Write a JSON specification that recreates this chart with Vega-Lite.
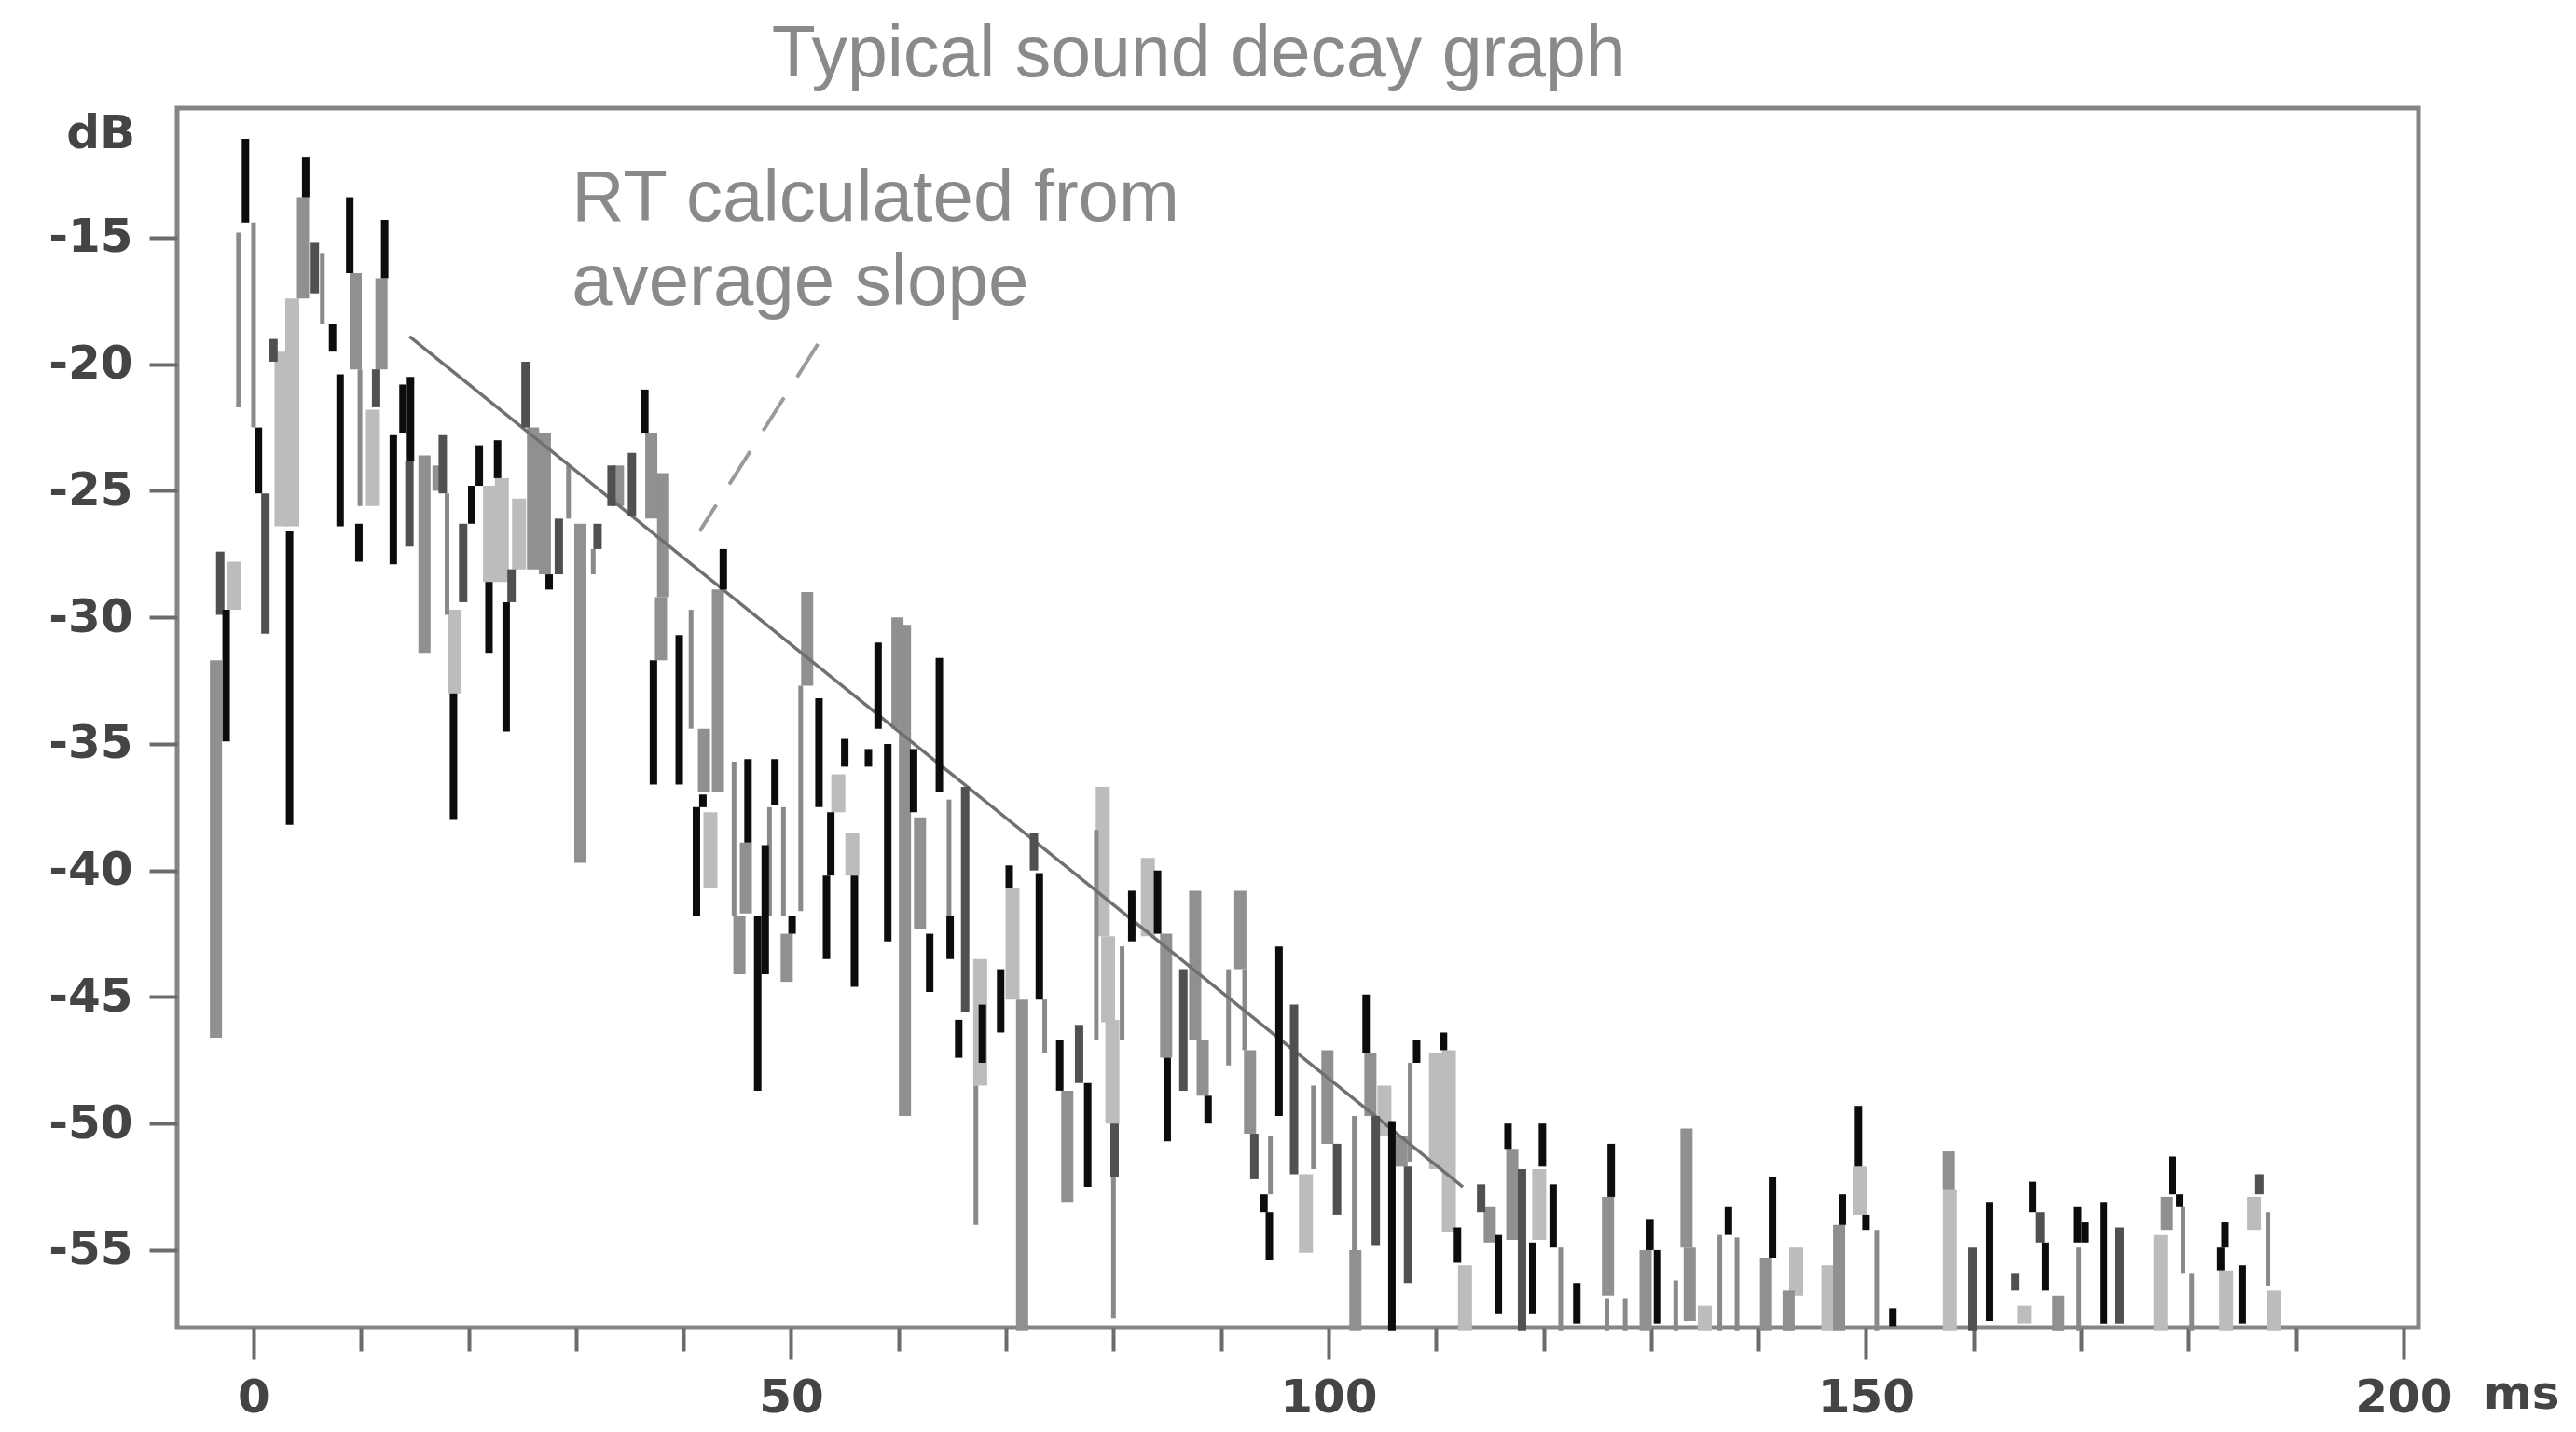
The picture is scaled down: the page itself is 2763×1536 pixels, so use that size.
{"$schema":"https://vega.github.io/schema/vega-lite/v6.json","width":2404,"height":1308,"autosize":"none","padding":{"left":190,"top":116,"right":169,"bottom":112},"background":"white","view":{"stroke":"#858585","strokeWidth":5,"fill":"white"},
"config":{"font":"Liberation Sans"},
"datasets":{"spans":[
{"ms":-3.5,"top":-31.7,"bottom":-46.6,"tone":"gray"},{"ms":-3.1,"top":-27.4,"bottom":-29.9,"tone":"dark"},{"ms":-2.55,"top":-29.7,"bottom":-34.9,"tone":"black"},{"ms":-1.8,"top":-27.8,"bottom":-29.7,"tone":"light"},{"ms":-0.75,"top":-11.1,"bottom":-14.4,"tone":"black"},{"ms":-1.4,"top":-14.8,"bottom":-21.7,"tone":"thin"},{"ms":0,"top":-14.4,"bottom":-22.5,"tone":"thin"},{"ms":0.45,"top":-22.5,"bottom":-25.1,"tone":"black"},{"ms":1.1,"top":-25.1,"bottom":-30.65,"tone":"dark"},{"ms":1.85,"top":-19,"bottom":-19.9,"tone":"dark"},{"ms":2.6,"top":-19.5,"bottom":-26.4,"tone":"light"},{"ms":3.6,"top":-17.4,"bottom":-26.4,"tone":"light"},{"ms":3.35,"top":-26.6,"bottom":-38.2,"tone":"black"},{"ms":4.85,"top":-11.8,"bottom":-13.4,"tone":"black"},{"ms":4.6,"top":-13.4,"bottom":-17.4,"tone":"gray"},{"ms":5.7,"top":-15.2,"bottom":-17.2,"tone":"dark"},{"ms":6.4,"top":-15.6,"bottom":-18.4,"tone":"thin"},{"ms":7.35,"top":-18.4,"bottom":-19.5,"tone":"black"},{"ms":8.05,"top":-20.4,"bottom":-26.4,"tone":"black"},{"ms":8.95,"top":-13.4,"bottom":-16.4,"tone":"black"},{"ms":9.5,"top":-16.4,"bottom":-20.2,"tone":"gray"},{"ms":9.9,"top":-20.2,"bottom":-25.6,"tone":"thin"},{"ms":9.8,"top":-26.3,"bottom":-27.8,"tone":"black"},{"ms":11.1,"top":-21.8,"bottom":-25.6,"tone":"light"},{"ms":12.2,"top":-14.3,"bottom":-16.6,"tone":"black"},{"ms":11.9,"top":-16.6,"bottom":-20.2,"tone":"gray"},{"ms":11.4,"top":-20.2,"bottom":-21.7,"tone":"dark"},{"ms":13,"top":-22.8,"bottom":-27.9,"tone":"black"},{"ms":13.9,"top":-20.8,"bottom":-22.7,"tone":"black"},{"ms":14.6,"top":-20.5,"bottom":-23.8,"tone":"black"},{"ms":14.5,"top":-23.8,"bottom":-27.2,"tone":"dark"},{"ms":15.9,"top":-23.6,"bottom":-31.4,"tone":"gray"},{"ms":17.6,"top":-22.8,"bottom":-25.1,"tone":"dark"},{"ms":17.2,"top":-24,"bottom":-25,"tone":"gray"},{"ms":18,"top":-25.1,"bottom":-29.9,"tone":"thin"},{"ms":19.5,"top":-26.3,"bottom":-29.4,"tone":"dark"},{"ms":18.7,"top":-29.7,"bottom":-33,"tone":"light"},{"ms":18.6,"top":-33,"bottom":-38,"tone":"black"},{"ms":20.3,"top":-24.8,"bottom":-26.3,"tone":"black"},{"ms":21,"top":-23.2,"bottom":-24.8,"tone":"black"},{"ms":22.7,"top":-23,"bottom":-24.5,"tone":"black"},{"ms":22,"top":-24.8,"bottom":-28.6,"tone":"light"},{"ms":23.1,"top":-24.5,"bottom":-28.6,"tone":"light"},{"ms":21.9,"top":-28.6,"bottom":-31.4,"tone":"black"},{"ms":24,"top":-28.1,"bottom":-29.4,"tone":"dark"},{"ms":23.5,"top":-29.4,"bottom":-34.5,"tone":"black"},{"ms":24.7,"top":-25.3,"bottom":-28.1,"tone":"light"},{"ms":25.3,"top":-19.9,"bottom":-22.5,"tone":"dark"},{"ms":26,"top":-22.5,"bottom":-28.1,"tone":"gray"},{"ms":27.1,"top":-22.7,"bottom":-28.3,"tone":"gray"},{"ms":27.5,"top":-28.3,"bottom":-28.9,"tone":"black"},{"ms":28.4,"top":-26.1,"bottom":-28.3,"tone":"dark"},{"ms":29.3,"top":-24,"bottom":-26.1,"tone":"thin"},{"ms":30.4,"top":-26.3,"bottom":-39.7,"tone":"gray"},{"ms":32,"top":-26.3,"bottom":-27.3,"tone":"dark"},{"ms":31.6,"top":-27.3,"bottom":-28.3,"tone":"thin"},{"ms":33.3,"top":-24,"bottom":-25.6,"tone":"dark"},{"ms":33.9,"top":-24,"bottom":-25.6,"tone":"gray"},{"ms":35.2,"top":-23.5,"bottom":-26,"tone":"dark"},{"ms":36.4,"top":-21,"bottom":-22.7,"tone":"black"},{"ms":37,"top":-22.7,"bottom":-26.1,"tone":"gray"},{"ms":38.1,"top":-24.3,"bottom":-29.2,"tone":"gray"},{"ms":37.9,"top":-29.2,"bottom":-31.7,"tone":"gray"},{"ms":37.2,"top":-31.7,"bottom":-36.6,"tone":"black"},{"ms":39.6,"top":-30.7,"bottom":-36.6,"tone":"black"},{"ms":40.7,"top":-29.7,"bottom":-34.4,"tone":"thin"},{"ms":43.7,"top":-27.3,"bottom":-28.9,"tone":"black"},{"ms":43.2,"top":-28.9,"bottom":-36.9,"tone":"gray"},{"ms":41.9,"top":-34.4,"bottom":-36.9,"tone":"gray"},{"ms":41.2,"top":-37.5,"bottom":-41.8,"tone":"black"},{"ms":41.8,"top":-37,"bottom":-37.5,"tone":"black"},{"ms":42.5,"top":-37.7,"bottom":-40.7,"tone":"light"},{"ms":44.7,"top":-35.7,"bottom":-41.8,"tone":"thin"},{"ms":46,"top":-35.6,"bottom":-38.9,"tone":"black"},{"ms":45.2,"top":-41.8,"bottom":-44.1,"tone":"gray"},{"ms":45.8,"top":-38.9,"bottom":-41.7,"tone":"gray"},{"ms":47.6,"top":-39,"bottom":-44.1,"tone":"black"},{"ms":46.9,"top":-41.8,"bottom":-48.7,"tone":"black"},{"ms":48.5,"top":-35.6,"bottom":-37.4,"tone":"black"},{"ms":48,"top":-37.5,"bottom":-41.8,"tone":"thin"},{"ms":49.3,"top":-37.5,"bottom":-41.8,"tone":"thin"},{"ms":50.1,"top":-41.8,"bottom":-42.5,"tone":"black"},{"ms":49.6,"top":-42.5,"bottom":-44.4,"tone":"gray"},{"ms":50.9,"top":-32.7,"bottom":-41.6,"tone":"thin"},{"ms":51.5,"top":-29,"bottom":-32.7,"tone":"gray"},{"ms":52.6,"top":-33.2,"bottom":-37.5,"tone":"black"},{"ms":53.7,"top":-37.7,"bottom":-40.2,"tone":"black"},{"ms":53.3,"top":-40.2,"bottom":-43.5,"tone":"black"},{"ms":54.4,"top":-36.2,"bottom":-37.7,"tone":"light"},{"ms":55,"top":-34.8,"bottom":-35.9,"tone":"black"},{"ms":55.9,"top":-40.2,"bottom":-44.6,"tone":"black"},{"ms":55.7,"top":-38.5,"bottom":-40.2,"tone":"light"},{"ms":57.2,"top":-35.2,"bottom":-35.9,"tone":"black"},{"ms":58.1,"top":-31,"bottom":-34.4,"tone":"black"},{"ms":59,"top":-35,"bottom":-42.8,"tone":"black"},{"ms":60.6,"top":-30.3,"bottom":-49.7,"tone":"gray"},{"ms":59.9,"top":-30,"bottom":-34.4,"tone":"gray"},{"ms":61.4,"top":-35.2,"bottom":-37.7,"tone":"black"},{"ms":63.8,"top":-31.6,"bottom":-36.9,"tone":"black"},{"ms":62,"top":-37.9,"bottom":-42.3,"tone":"gray"},{"ms":62.9,"top":-42.5,"bottom":-44.8,"tone":"black"},{"ms":64.8,"top":-41.8,"bottom":-43.5,"tone":"black"},{"ms":64.7,"top":-37.2,"bottom":-41.8,"tone":"thin"},{"ms":66.2,"top":-36.7,"bottom":-45.6,"tone":"dark"},{"ms":65.6,"top":-45.9,"bottom":-47.4,"tone":"black"},{"ms":67.8,"top":-45.3,"bottom":-47.6,"tone":"black"},{"ms":67.6,"top":-43.5,"bottom":-48.5,"tone":"light"},{"ms":67.2,"top":-48.5,"bottom":-54,"tone":"thin"},{"ms":69.5,"top":-43.9,"bottom":-46.4,"tone":"black"},{"ms":70.3,"top":-39.8,"bottom":-40.7,"tone":"black"},{"ms":70.6,"top":-40.7,"bottom":-45.1,"tone":"light"},{"ms":71.5,"top":-45.1,"bottom":-58.2,"tone":"gray"},{"ms":72.6,"top":-38.5,"bottom":-40,"tone":"dark"},{"ms":73.1,"top":-40.1,"bottom":-45.1,"tone":"black"},{"ms":73.6,"top":-45.1,"bottom":-47.2,"tone":"thin"},{"ms":75,"top":-46.7,"bottom":-48.7,"tone":"black"},{"ms":75.7,"top":-48.7,"bottom":-53.1,"tone":"gray"},{"ms":76.8,"top":-46.1,"bottom":-48.4,"tone":"dark"},{"ms":77.6,"top":-48.4,"bottom":-52.5,"tone":"black"},{"ms":79,"top":-36.7,"bottom":-42.6,"tone":"light"},{"ms":78.4,"top":-38.4,"bottom":-46.7,"tone":"thin"},{"ms":79.9,"top":-45.9,"bottom":-50,"tone":"light"},{"ms":79.5,"top":-42.6,"bottom":-46,"tone":"light"},{"ms":80.1,"top":-50,"bottom":-52.1,"tone":"dark"},{"ms":80,"top":-52.1,"bottom":-57.7,"tone":"thin"},{"ms":80.8,"top":-43,"bottom":-46.7,"tone":"thin"},{"ms":81.7,"top":-40.8,"bottom":-42.8,"tone":"black"},{"ms":83.2,"top":-39.5,"bottom":-42.6,"tone":"light"},{"ms":84.1,"top":-40,"bottom":-42.5,"tone":"black"},{"ms":84.9,"top":-42.5,"bottom":-47.4,"tone":"gray"},{"ms":85,"top":-47.4,"bottom":-50.7,"tone":"black"},{"ms":86.5,"top":-43.9,"bottom":-48.7,"tone":"dark"},{"ms":87.6,"top":-40.8,"bottom":-46.7,"tone":"gray"},{"ms":88.3,"top":-46.7,"bottom":-48.9,"tone":"gray"},{"ms":88.8,"top":-48.9,"bottom":-50,"tone":"black"},{"ms":90.7,"top":-43.9,"bottom":-47.7,"tone":"thin"},{"ms":91.8,"top":-40.8,"bottom":-43.9,"tone":"gray"},{"ms":92.2,"top":-43.9,"bottom":-47.1,"tone":"thin"},{"ms":92.7,"top":-47.1,"bottom":-50.4,"tone":"gray"},{"ms":93.1,"top":-50.4,"bottom":-52.2,"tone":"dark"},{"ms":94,"top":-52.8,"bottom":-53.5,"tone":"black"},{"ms":94.5,"top":-53.5,"bottom":-55.4,"tone":"black"},{"ms":94.6,"top":-50.5,"bottom":-52.8,"tone":"thin"},{"ms":95.4,"top":-43,"bottom":-49.7,"tone":"black"},{"ms":96.8,"top":-45.3,"bottom":-52,"tone":"dark"},{"ms":97.9,"top":-52,"bottom":-55.1,"tone":"light"},{"ms":98.6,"top":-48.5,"bottom":-51.8,"tone":"thin"},{"ms":99.9,"top":-47.1,"bottom":-50.8,"tone":"gray"},{"ms":100.8,"top":-50.8,"bottom":-53.6,"tone":"dark"},{"ms":102.4,"top":-49.7,"bottom":-55,"tone":"thin"},{"ms":102.5,"top":-55,"bottom":-58.2,"tone":"gray"},{"ms":103.5,"top":-44.9,"bottom":-47.2,"tone":"black"},{"ms":103.9,"top":-47.2,"bottom":-49.7,"tone":"gray"},{"ms":104.4,"top":-49.7,"bottom":-54.8,"tone":"dark"},{"ms":105.2,"top":-48.5,"bottom":-50.5,"tone":"light"},{"ms":105.9,"top":-49.9,"bottom":-58.2,"tone":"black"},{"ms":107.4,"top":-51.7,"bottom":-56.3,"tone":"dark"},{"ms":106.8,"top":-50.5,"bottom":-51.7,"tone":"gray"},{"ms":108.2,"top":-46.7,"bottom":-47.6,"tone":"black"},{"ms":107.6,"top":-47.6,"bottom":-51.5,"tone":"thin"},{"ms":110.7,"top":-46.4,"bottom":-47.1,"tone":"black"},{"ms":110,"top":-47.2,"bottom":-51.8,"tone":"light"},{"ms":111.2,"top":-47.1,"bottom":-54.3,"tone":"light"},{"ms":112,"top":-54.1,"bottom":-55.5,"tone":"black"},{"ms":112.7,"top":-55.6,"bottom":-58.2,"tone":"light"},{"ms":114.2,"top":-52.4,"bottom":-53.5,"tone":"dark"},{"ms":115,"top":-53.3,"bottom":-54.7,"tone":"gray"},{"ms":115.8,"top":-54.4,"bottom":-57.5,"tone":"black"},{"ms":116.7,"top":-50,"bottom":-51,"tone":"black"},{"ms":117.1,"top":-51,"bottom":-54.6,"tone":"gray"},{"ms":118,"top":-51.8,"bottom":-58.2,"tone":"dark"},{"ms":119,"top":-54.7,"bottom":-57.5,"tone":"black"},{"ms":119.9,"top":-50,"bottom":-51.7,"tone":"black"},{"ms":119.6,"top":-51.8,"bottom":-54.6,"tone":"light"},{"ms":120.9,"top":-52.4,"bottom":-54.9,"tone":"black"},{"ms":121.6,"top":-54.9,"bottom":-58.2,"tone":"thin"},{"ms":123.1,"top":-56.3,"bottom":-57.9,"tone":"black"},{"ms":126.3,"top":-50.8,"bottom":-52.9,"tone":"black"},{"ms":126,"top":-52.9,"bottom":-56.8,"tone":"gray"},{"ms":125.9,"top":-56.9,"bottom":-58.2,"tone":"thin"},{"ms":127.6,"top":-56.9,"bottom":-58.2,"tone":"thin"},{"ms":129.9,"top":-53.8,"bottom":-55,"tone":"black"},{"ms":130.6,"top":-55,"bottom":-57.9,"tone":"black"},{"ms":129.5,"top":-55,"bottom":-58.2,"tone":"gray"},{"ms":132.3,"top":-56.2,"bottom":-58.2,"tone":"thin"},{"ms":133.3,"top":-50.2,"bottom":-54.9,"tone":"gray"},{"ms":133.6,"top":-54.9,"bottom":-57.8,"tone":"gray"},{"ms":135,"top":-57.2,"bottom":-58.2,"tone":"light"},{"ms":137.2,"top":-53.3,"bottom":-54.4,"tone":"black"},{"ms":136.4,"top":-54.4,"bottom":-58.2,"tone":"thin"},{"ms":138,"top":-54.5,"bottom":-58.2,"tone":"thin"},{"ms":141.3,"top":-52.1,"bottom":-55.3,"tone":"black"},{"ms":140.7,"top":-55.3,"bottom":-58.2,"tone":"gray"},{"ms":142.8,"top":-56.6,"bottom":-58.2,"tone":"gray"},{"ms":143.5,"top":-54.9,"bottom":-56.8,"tone":"light"},{"ms":147.8,"top":-52.8,"bottom":-54,"tone":"black"},{"ms":147.5,"top":-54,"bottom":-58.2,"tone":"gray"},{"ms":146.5,"top":-55.6,"bottom":-58.2,"tone":"light"},{"ms":149.3,"top":-49.3,"bottom":-51.7,"tone":"black"},{"ms":149.4,"top":-51.7,"bottom":-53.6,"tone":"light"},{"ms":150,"top":-53.6,"bottom":-54.2,"tone":"black"},{"ms":151,"top":-54.2,"bottom":-58.2,"tone":"thin"},{"ms":152.5,"top":-57.3,"bottom":-58,"tone":"black"},{"ms":157.7,"top":-51.1,"bottom":-52.6,"tone":"gray"},{"ms":157.8,"top":-52.6,"bottom":-58.2,"tone":"light"},{"ms":159.9,"top":-54.9,"bottom":-58.2,"tone":"dark"},{"ms":161.5,"top":-53.1,"bottom":-57.8,"tone":"black"},{"ms":163.9,"top":-55.9,"bottom":-56.6,"tone":"dark"},{"ms":164.7,"top":-57.2,"bottom":-57.9,"tone":"light"},{"ms":165.5,"top":-52.3,"bottom":-53.5,"tone":"black"},{"ms":166.2,"top":-53.5,"bottom":-54.7,"tone":"dark"},{"ms":166.7,"top":-54.7,"bottom":-56.6,"tone":"black"},{"ms":167.9,"top":-56.8,"bottom":-58.2,"tone":"gray"},{"ms":169.7,"top":-53.3,"bottom":-54.7,"tone":"black"},{"ms":170.4,"top":-53.9,"bottom":-54.7,"tone":"black"},{"ms":169.8,"top":-54.9,"bottom":-58.2,"tone":"thin"},{"ms":172.1,"top":-53.1,"bottom":-57.9,"tone":"black"},{"ms":173.6,"top":-54.1,"bottom":-57.9,"tone":"dark"},{"ms":177.4,"top":-54.4,"bottom":-58.2,"tone":"light"},{"ms":178.5,"top":-51.3,"bottom":-52.8,"tone":"black"},{"ms":179.2,"top":-52.8,"bottom":-53.3,"tone":"black"},{"ms":178,"top":-52.9,"bottom":-54.2,"tone":"gray"},{"ms":179.5,"top":-53.3,"bottom":-55.9,"tone":"thin"},{"ms":180.3,"top":-55.9,"bottom":-58.2,"tone":"thin"},{"ms":183,"top":-54.9,"bottom":-55.8,"tone":"black"},{"ms":183.4,"top":-53.9,"bottom":-54.9,"tone":"black"},{"ms":183.5,"top":-55.8,"bottom":-58.2,"tone":"light"},{"ms":185,"top":-55.6,"bottom":-57.9,"tone":"black"},{"ms":186.6,"top":-52,"bottom":-52.8,"tone":"dark"},{"ms":186.1,"top":-52.9,"bottom":-54.2,"tone":"light"},{"ms":187.4,"top":-53.5,"bottom":-56.4,"tone":"thin"},{"ms":188,"top":-56.6,"bottom":-58.2,"tone":"light"}
],"slope":[{"ms":14.5,"db":-18.9,"ms2":112.5,"db2":-52.5}],"pointer":[{"ms":52.5,"db":-19.2,"ms2":41.5,"db2":-26.6}],
"notes":[{"ms":29.6,"db":-13.5,"label":"RT calculated from"},{"ms":29.6,"db":-16.8,"label":"average slope"}],
"units":[{"ms":-14.2,"db":-10.9,"label":"dB"},{"ms":211,"db":-60.7,"label":"ms"}]},
"encoding":{"x":{"field":"ms","type":"quantitative","scale":{"domain":[-7.11,201.4],"nice":false,"zero":false},"title":null},"y":{"field":"top","type":"quantitative","scale":{"domain":[-58.06,-9.88],"nice":false,"zero":false},"title":null}},
"layer":[
{"data":{"name":"spans"},"transform":[{"filter":"datum.tone==='light'"}],"mark":{"type":"rule","color":"#bcbcbc","strokeWidth":15},"encoding":{"y2":{"field":"bottom"},
"x":{"field":"ms","type":"quantitative","axis":{"values":[0,10,20,30,40,50,60,70,80,90,100,110,120,130,140,150,160,170,180,190,200],"grid":false,"domain":false,"tickColor":"#6b6b6b","tickWidth":4,"tickSize":{"condition":{"test":"datum.value % 50 === 0","value":34},"value":25},"labelExpr":"datum.value % 50 === 0 ? datum.value : ''","labelFont":"DejaVu Sans","labelFontSize":50,"labelFontWeight":"bold","labelColor":"#444444","labelPadding":16,"labelFlush":false,"labelOverlap":false}},
"y":{"field":"top","type":"quantitative","axis":{"values":[-15,-20,-25,-30,-35,-40,-45,-50,-55],"grid":false,"domain":false,"tickColor":"#6b6b6b","tickWidth":4,"tickSize":30,"labelExpr":"'-' + abs(datum.value)","labelFont":"DejaVu Sans","labelFontSize":50,"labelFontWeight":"bold","labelColor":"#444444","labelPadding":18}}}},
{"data":{"name":"spans"},"transform":[{"filter":"datum.tone==='gray'"}],"mark":{"type":"rule","color":"#909090","strokeWidth":13},"encoding":{"y2":{"field":"bottom"}}},
{"data":{"name":"spans"},"transform":[{"filter":"datum.tone==='thin'"}],"mark":{"type":"rule","color":"#8a8a8a","strokeWidth":5},"encoding":{"y2":{"field":"bottom"}}},
{"data":{"name":"slope"},"mark":{"type":"rule","color":"#707070","strokeWidth":3.5},"encoding":{"x":{"field":"ms","type":"quantitative"},"y":{"field":"db","type":"quantitative"},"x2":{"field":"ms2"},"y2":{"field":"db2"}}},
{"data":{"name":"pointer"},"mark":{"type":"rule","color":"#9a9a9a","strokeWidth":4,"strokeDash":[42,26]},"encoding":{"x":{"field":"ms","type":"quantitative"},"y":{"field":"db","type":"quantitative"},"x2":{"field":"ms2"},"y2":{"field":"db2"}}},
{"data":{"name":"spans"},"transform":[{"filter":"datum.tone==='dark'"}],"mark":{"type":"rule","color":"#505050","strokeWidth":9},"encoding":{"y2":{"field":"bottom"}}},
{"data":{"name":"spans"},"transform":[{"filter":"datum.tone==='black'"}],"mark":{"type":"rule","color":"#0c0c0c","strokeWidth":8},"encoding":{"y2":{"field":"bottom"}}},
{"data":{"name":"notes"},"mark":{"type":"text","align":"left","baseline":"middle","font":"Liberation Sans","fontSize":78,"color":"#8a8a8a"},"encoding":{"x":{"field":"ms","type":"quantitative"},"y":{"field":"db","type":"quantitative"},"text":{"field":"label"}}},
{"data":{"name":"units"},"mark":{"type":"text","align":"center","baseline":"middle","font":"DejaVu Sans","fontSize":50,"fontWeight":"bold","color":"#444444"},"encoding":{"x":{"field":"ms","type":"quantitative"},"y":{"field":"db","type":"quantitative"},"text":{"field":"label"}}}
],
"title":{"text":"Typical sound decay graph","anchor":"start","dx":776,"offset":18,"font":"Liberation Sans","fontSize":77,"fontWeight":"normal","color":"#8a8a8a"}}
